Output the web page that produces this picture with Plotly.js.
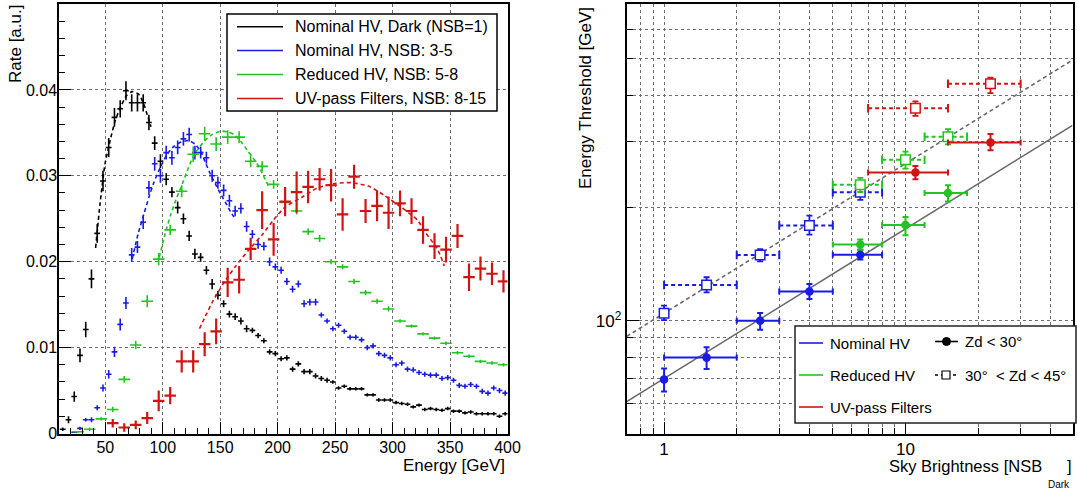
<!DOCTYPE html>
<html>
<head>
<meta charset="utf-8">
<script src="https://cdn.plot.ly/plotly-3.0.1.min.js"></script>
<style>html,body{margin:0;padding:0;background:#fff;}#chart{width:1078px;height:492px;}</style>
</head>
<body>
<div id="chart"></div>
<script>
// ---------------- Left panel: energy distributions ----------------
const blackE = [13,18,23,28,33,38,43,48,53,58,63,68,73,78,83,88,93,98,103,108,113,118,123,128,133,138,143,148,153,158,163,168,173,178,183,188,193,198,203,208,213,218,223,228,233,238,243,248,253,258,263,268,273,278,283,288,293,298,303,308,313,318,323,328,333,338,343,348,353,358,363,368,373,378,383,388,393,398];
const blackRate = [0.0005,0.0016,0.0043,0.0091,0.0121,0.0180,0.0233,0.0294,0.0333,0.0368,0.0378,0.0399,0.0385,0.0385,0.0385,0.0362,0.0338,0.0317,0.0296,0.0281,0.0263,0.0250,0.0230,
 0.0209,0.0205,0.0190,0.0174,0.0161,0.0151,0.0139,0.0136,0.0131,0.0122,0.0120,0.0114,
 0.0108,0.0095,0.0093,0.0087,0.0088,0.0075,0.0081,0.0072,0.0072,0.0067,0.0064,0.0062,
 0.0060,0.0053,0.0055,0.0052,0.0052,0.0052,0.0045,0.0045,0.0039,0.0039,0.0039,0.0036,0.0035,0.0034,0.0031,0.0033,0.0028,0.0029,0.0028,0.0027,0.0029,0.0026,0.0026,0.0024,0.0025,0.0023,0.0023,0.0023,0.0023,0.0020,0.0023];
const blackErr = [0.0002,0.0004,0.0006,0.0008,0.0009,0.0011,0.0011,0.0012,0.0011,0.0011,0.0010,0.0011,0.0010,0.0010,0.0010,0.0009,0.0008,0.0008,0.0007,0.0006,0.0007,0.0006,0.0006,
 0.0006,0.0005,0.0005,0.0006,0.0005,0.0004,0.0004,0.0004,0.0004,0.0004,0.0003,0.0003,
 0.0003,0.0003,0.0003,0.0003,0.0003,0.0003,0.0003,0.0003,0.0003,0.0003,0.0003,0.0003,
 0.0002,0.0002,0.0002,0.0002,0.0002,0.0002,0.0002,0.0002,0.0002,0.0002,0.0002,0.0002,0.0002,0.0002,0.0002,0.0002,0.0002,0.0002,0.0002,0.0002,0.0002,0.0002,0.0002,0.0002,0.0002,0.0002,0.0002,0.0002,0.0002,0.0002,0.0002];

const blueE = [23,28,33,38,43,48,53,58,63,68,73,78,83,88,93,98,103,108,113,118,123,128,133,138,143,148,153,158,163,168,173,178,183,188,193,198,203,208,213,218,223,228,233,238,243,248,253,258,263,268,273,278,283,288,293,298,303,308,313,318,323,328,333,338,343,348,353,358,363,368,373,378,383,388,393,398];
const blueRate = [0.00015,0.0006,0.0016,0.0016,0.0030,0.0053,0.0069,0.0095,0.0127,0.0152,
 0.0208,0.0217,0.0246,0.0286,0.0314,0.0300,0.0327,0.0321,0.0333,0.0343,
 0.0348,0.0327,0.0327,0.0321,0.0300,0.0292,0.0283,0.0271,0.0259,0.0262,
 0.0241,0.0232,0.0220,0.0218,0.0200,0.0194,0.0190,0.0177,0.0168,0.0174,
 0.0151,0.0153,0.0153,0.0138,0.0131,0.0122,0.0126,0.0119,0.0112,0.0112,
 0.0109,0.0100,0.0102,0.0093,0.0091,0.0088,0.0080,0.0082,0.0075,0.0074,
 0.0071,0.0069,0.0068,0.0068,0.0064,0.0065,0.0062,0.0056,0.0055,0.0057,
 0.0055,0.0049,0.0047,0.0053,0.0050,0.0047];
const blueErr = [0.0001,0.0002,0.0002,0.0003,0.0003,0.0004,0.0005,0.0006,0.0007,0.0007,
 0.0008,0.0007,0.0008,0.0008,0.0008,0.0008,0.0008,0.0008,0.0008,0.0008,
 0.0008,0.0008,0.0007,0.0007,0.0007,0.0007,0.0007,0.0007,0.0006,0.0006,
 0.0006,0.0005,0.0005,0.0005,0.0005,0.0004,0.0004,0.0004,0.0004,0.0004,
 0.0004,0.0004,0.0004,
 0.0003,0.0003,0.0003,0.0003,0.0003,0.0003,0.0003,0.0003,0.0003,0.0003,0.0003,0.0003,0.0003,0.0003,0.0003,0.0003,0.0003,0.0003,0.0003,0.0003,0.0003,0.0003,0.0003,0.0003,0.0003,0.0003,0.0003,0.0003,0.0003,0.0003,0.0003,0.0003,0.0003];

const greenE = [26.5,36.5,46.5,56.5,66.5,76.5,86.5,96.5,106.5,116.5,126.5,136.5,146.5,156.5,166.5,176.5,186.5,196.5,206.5,216.5,226.5,236.5,246.5,256.5,266.5,276.5,286.5,296.5,306.5,316.5,326.5,336.5,346.5,356.5,366.5,376.5,386.5,396.5];
const greenRate = [0.0002,0.0005,0.0017,0.0028,0.0063,0.0103,0.0154,0.0203,0.0237,0.0282,
 0.0325,0.0349,0.0337,0.0345,0.0345,0.0317,0.0311,0.0290,0.0269,0.0259,
 0.0235,0.0227,0.0200,0.0194,0.0177,0.0164,0.0154,0.0145,0.0131,0.0125,
 0.0116,0.0111,0.0105,0.0094,0.0090,0.0084,0.0082,0.0080];
const greenErr = [0.0001,0.0002,0.0002,0.0003,0.0004,0.0005,0.0007,0.0007,0.0006,0.0007,
 0.0009,0.0008,0.0008,0.0008,0.0007,0.0007,0.0006,0.0005,0.0005,0.0004,
 0.0004,0.0004,0.0003,0.0003,0.0003,0.0003,0.0003,0.0003,
 0.0002,0.0002,0.0002,0.0002,0.0002,0.0002,0.0002,0.0002,0.0002,0.0002];

const redE = [56.5,66.5,76.5,86.5,96.5,106.5,116.5,126.5,136.5,146.5,156.5,166.5,176.5,186.5,196.5,206.5,216.5,226.5,236.5,246.5,256.5,266.5,276.5,286.5,296.5,306.5,316.5,326.5,336.5,346.5,356.5,366.5,376.5,386.5,396.5];
const redRate = [0.0012,0.0007,0.0010,0.0018,0.0038,0.0044,0.0084,0.0084,0.0104,0.0119,
 0.0176,0.0179,0.0215,0.0260,0.0226,0.0270,0.0281,0.0287,0.0296,0.0289,
 0.0255,0.0299,0.0259,0.0265,0.0257,0.0268,0.0259,0.0237,0.0218,0.0214,
 0.0230,0.0182,0.0192,0.0186,0.0177];
const redErr = [0.0005,0.0005,0.0005,0.0007,0.0012,0.0010,0.0013,0.0013,0.0014,0.0015,
 0.0017,0.0016,0.0013,0.0022,0.0019,0.0017,0.0024,0.0019,0.0013,0.0019,
 0.0019,0.0014,0.0014,0.0018,0.0019,0.0015,0.0015,0.0016,0.0015,0.0015,
 0.0014,0.0016,0.0014,0.0013,0.0013];

const narrowHalfBin = 2.5, wideHalfBin = 5;

// fitted curves
const fitDarkE = [41.6,45.4,49.8,54.2,58.6,63,68.3,73.3,79,83.4,86.3,89.8];
const fitDarkR = [0.0216,0.0267,0.0314,0.0341,0.0364,0.0379,0.0393,0.0398,0.0395,0.0384,0.0372,0.0357];
const fitBlueE = [73.4,78.5,83.5,88,92.2,98,103.8,109.5,115.5,122.6,128,132.8,137,141.5,146,150.3,155,159.1,162];
const fitBlueR = [0.0203,0.0232,0.0255,0.0275,0.0292,0.0310,0.0325,0.0334,0.0339,0.0341,0.0337,0.0329,0.0316,0.0302,0.0290,0.0279,0.0268,0.0258,0.0252];
const fitGreenE = [97,102,107,111.5,116,120.5,125,130,136,143,151,157,162,168,174,179,184,188,192];
const fitGreenR = [0.0205,0.0232,0.0255,0.0272,0.0287,0.0303,0.0318,0.0330,0.0340,0.0348,0.0352,0.0351,0.0348,0.0340,0.0329,0.0320,0.0310,0.0299,0.0288];
const fitRedE = [132,138,144,153,163,175,187,196,206,221,235,250,264,279,293,308,322,327,333,339,345];
const fitRedR = [0.0122,0.0139,0.0155,0.0175,0.0194,0.0214,0.0232,0.0248,0.0263,0.0275,0.0286,0.0291,0.0292,0.0288,0.0277,0.0263,0.0248,0.0237,0.0226,0.0215,0.0195];

const leftLegend = ["Nominal HV, Dark (NSB=1)","Nominal HV, NSB: 3-5","Reduced HV, NSB: 5-8","UV-pass Filters, NSB: 8-15"];

// ---------------- Right panel: energy threshold vs sky brightness ----------------
const nomX = [1, 1.5, 2.5, 4, 6.5];
const nomLo = [1, 1, 2, 3, 5];
const nomHi = [1, 2, 3, 5, 8];
const nomLowZd = [69.7, 79.7, 100, 119.6, 150];
const nomLowZdUp = [4.9, 5.2, 4.8, 5.7, 4.6];
const nomLowZdDn = [5.0, 5.4, 5.4, 5.4, 4.4];
const nomHighZd = [104.6, 124.5, 149.7, 179.5, 220];
const nomHighZdUp = [5.1, 6.1, 5.6, 11.3, 11];
const nomHighZdDn = [4.2, 5.5, 5.8, 9.9, 10];

const redHvX = [6.5, 10, 15];
const redHvLo = [5, 8, 12];
const redHvHi = [8, 12, 18];
const redHvLowZd = [159.6, 180, 219];
const redHvLowZdUp = [5, 9, 11];
const redHvLowZdDn = [5, 11, 11];
const redHvHighZd = [230.5, 268.7, 309.5];
const redHvHighZdUp = [10, 14, 15];
const redHvHighZdDn = [10, 14, 14];

const uvX = [11, 22.5];
const uvLo = [7, 15];
const uvHi = [15, 30];
const uvLowZd = [248.6, 298.8];
const uvLowZdUp = [10, 16];
const uvLowZdDn = [10, 14];
const uvHighZd = [369, 429];
const uvHighZdUp = [16, 16];
const uvHighZdDn = [17, 24];

const refX = [0.7, 49.2];
const refLowZd = [60.8, 332];
const refHighZd = [90.8, 496];

const rightLegend = ["Nominal HV", "Reduced HV", "UV-pass Filters"];
const zdLegend = ["Zd &lt; 30°", "30°\u00a0 &lt; Zd &lt; 45°"];

// ---------------- styles ----------------
const C_BLACK = '#000000', C_BLUE = '#1a1ae6', C_GREEN = '#22c322', C_RED = '#d01414', C_GRAY = '#6a6a6a';
const FONT = 'Liberation Sans, Arial, Helvetica, sans-serif';
const W = 1078, H = 492;
const px = x => x / W;
const py = y => 1 - y / H;

const traces = [];
function crosses(E, R, Err, half, color, thick) {
  traces.push({
    type: 'scatter', mode: 'markers', x: E, y: R, xaxis: 'x', yaxis: 'y',
    marker: {size: 1, color: color},
    error_x: {type: 'constant', value: half, width: 0, thickness: thick, color: color},
    error_y: {type: 'data', array: Err, width: 0, thickness: thick, color: color},
    hoverinfo: 'skip'
  });
}
function fit(E, R, color) {
  traces.push({
    type: 'scatter', mode: 'lines', x: E, y: R, xaxis: 'x', yaxis: 'y',
    line: {color: color, width: 1.6, dash: '4px,3px', shape: 'spline', smoothing: 0.6},
    hoverinfo: 'skip'
  });
}
crosses(blackE, blackRate, blackErr, narrowHalfBin, C_BLACK, 1.6);
crosses(blueE, blueRate, blueErr, narrowHalfBin, C_BLUE, 1.6);
crosses(greenE, greenRate, greenErr, wideHalfBin, C_GREEN, 1.6);
crosses(redE, redRate, redErr, wideHalfBin, C_RED, 2.2);
fit(fitDarkE, fitDarkR, C_BLACK);
fit(fitBlueE, fitBlueR, C_BLUE);
fit(fitGreenE, fitGreenR, C_GREEN);
fit(fitRedE, fitRedR, C_RED);

// reference lines
traces.push({type:'scatter', mode:'lines', x: refX, y: refLowZd, xaxis:'x2', yaxis:'y2',
  line:{color:C_GRAY, width:1.6}, hoverinfo:'skip'});
traces.push({type:'scatter', mode:'lines', x: refX, y: refHighZd, xaxis:'x2', yaxis:'y2',
  line:{color:C_GRAY, width:1.6, dash:'4px,3px'}, hoverinfo:'skip'});

function thresholdGroup(X, Lo, Hi, Ylow, UpL, DnL, Yhigh, UpH, DnH, color) {
  const hx = [], hy = [], cx = [], cy = [];
  X.forEach((x, i) => {
    if (Hi[i] > Lo[i]) {
      hx.push(Lo[i], Hi[i], null); hy.push(Yhigh[i], Yhigh[i], null);
      cx.push(Lo[i], Hi[i]); cy.push(Yhigh[i], Yhigh[i]);
    }
  });
  traces.push({type:'scatter', mode:'lines', x: hx, y: hy, xaxis:'x2', yaxis:'y2',
    line:{color: color, width: 2, dash: '4px,3px'}, hoverinfo:'skip'});
  traces.push({type:'scatter', mode:'markers', x: cx, y: cy, xaxis:'x2', yaxis:'y2',
    marker:{symbol:'line-ns', size:6, line:{color: color, width:2}}, hoverinfo:'skip'});
  traces.push({type:'scatter', mode:'markers', x: X, y: Yhigh, xaxis:'x2', yaxis:'y2',
    marker:{symbol:'square', size:9.5, color:'#ffffff', line:{color: color, width:1.5}},
    error_y:{type:'data', symmetric:false, array: UpH, arrayminus: DnH, width:3, thickness:1.8, color: color},
    hoverinfo:'skip'});
  traces.push({type:'scatter', mode:'markers', x: X, y: Ylow, xaxis:'x2', yaxis:'y2',
    marker:{symbol:'circle', size:8.5, color: color},
    error_x:{type:'data', symmetric:false, array: X.map((x,i)=>Hi[i]-x), arrayminus: X.map((x,i)=>x-Lo[i]), width:3, thickness:2, color: color},
    error_y:{type:'data', symmetric:false, array: UpL, arrayminus: DnL, width:3, thickness:2, color: color},
    hoverinfo:'skip'});
}
thresholdGroup(nomX, nomLo, nomHi, nomLowZd, nomLowZdUp, nomLowZdDn, nomHighZd, nomHighZdUp, nomHighZdDn, C_BLUE);
thresholdGroup(redHvX, redHvLo, redHvHi, redHvLowZd, redHvLowZdUp, redHvLowZdDn, redHvHighZd, redHvHighZdUp, redHvHighZdDn, C_GREEN);
thresholdGroup(uvX, uvLo, uvHi, uvLowZd, uvLowZdUp, uvLowZdDn, uvHighZd, uvHighZdUp, uvHighZdDn, C_RED);

// ---------------- layout ----------------
const gridStyle = {showgrid: true, gridcolor: '#707070', gridwidth: 1, griddash: 'dot'};
const axisLine = {showline: true, linecolor: '#000', linewidth: 2, mirror: true, zeroline: false,
  ticks: 'inside', tickcolor: '#000', tickwidth: 1};

const shapes = [];
const annotations = [];
function ann(text, x, y, opts) {
  annotations.push(Object.assign({text: text, x: px(x), y: py(y), xref: 'paper', yref: 'paper',
    showarrow: false, xanchor: 'left', yanchor: 'middle', font: {family: FONT, size: 16, color: '#000'}}, opts || {}));
}
function hline(x0, x1, y, color, width, dash) {
  shapes.push({type:'line', xref:'paper', yref:'paper', x0:px(x0), x1:px(x1), y0:py(y), y1:py(y),
    line:{color: color, width: width, dash: dash || 'solid'}});
}

// axis titles
ann('Rate [a.u.]', 15, 44, {textangle: -90, xanchor: 'center', font: {family: FONT, size: 17}});
ann('Energy [GeV]', 507, 465, {xanchor: 'right', font: {family: FONT, size: 17}});
ann('Energy Threshold [GeV]', 585, 98, {textangle: -90, xanchor: 'center', font: {family: FONT, size: 17}});
ann('Sky Brightness [NSB', 1044, 466, {xanchor: 'right', font: {family: FONT, size: 16.5}});
ann('Dark', 1046, 484, {xanchor: 'left', font: {family: FONT, size: 10}});
ann(']', 1074, 466, {xanchor: 'right', font: {family: FONT, size: 16.5}});

// left legend
shapes.push({type:'rect', xref:'paper', yref:'paper', x0:px(227), x1:px(497), y0:py(111), y1:py(14),
  fillcolor:'#ffffff', line:{color:'#000', width:1.5}});
const leftColors = [C_BLACK, C_BLUE, C_GREEN, C_RED];
const leftRows = [26.7, 50.5, 74.5, 98.5];
leftLegend.forEach((t, i) => {
  hline(237, 283, leftRows[i], leftColors[i], 1.6);
  ann(t, 293, leftRows[i], {font: {family: FONT, size: 16}});
});

// right legend
shapes.push({type:'rect', xref:'paper', yref:'paper', x0:px(795), x1:px(1076), y0:py(423), y1:py(326),
  fillcolor:'#ffffff', line:{color:'#222', width:1.5}});
const rightColors = [C_BLUE, C_GREEN, C_RED];
const rightRows = [343, 375, 407];
rightLegend.forEach((t, i) => {
  hline(799, 823, rightRows[i], rightColors[i], 1.6);
  ann(t, 828, rightRows[i], {font: {family: FONT, size: 15}});
});
hline(935, 958, 341.5, '#000', 1.6);
shapes.push({type:'circle', xref:'paper', yref:'paper', x0:px(942.5), x1:px(950.5), y0:py(345.5), y1:py(337.5),
  fillcolor:'#000', line:{color:'#000', width:1}});
ann(zdLegend[0], 963, 341.5, {font: {family: FONT, size: 15}});
hline(935, 958, 375, '#000', 1.4, 'dot');
shapes.push({type:'rect', xref:'paper', yref:'paper', x0:px(942), x1:px(950), y0:py(379), y1:py(371),
  fillcolor:'#fff', line:{color:'#000', width:1.2}});
ann(zdLegend[1], 963, 375, {font: {family: FONT, size: 15}});

const layout = {
  width: W, height: H,
  margin: {l: 0, r: 0, t: 0, b: 0},
  paper_bgcolor: '#ffffff', plot_bgcolor: '#ffffff',
  showlegend: false,
  font: {family: FONT, size: 16, color: '#000'},
  xaxis: Object.assign({}, axisLine, gridStyle, {
    domain: [px(59.3), px(507.5)], anchor: 'y', range: [10, 400], tick0: 0, dtick: 50, ticklen: 12,
    tickfont: {family: FONT, size: 16}, ticklabelstandoff: -2,
    minor: {dtick: 10, tick0: 0, ticks: 'inside', ticklen: 6, tickcolor: '#000', showgrid: false}
  }),
  yaxis: Object.assign({}, axisLine, gridStyle, {
    domain: [py(433.5), py(4)], anchor: 'x', range: [0, 0.05], tick0: 0, dtick: 0.01, ticklen: 12,
    tickfont: {family: FONT, size: 16}, ticklabelstandoff: -3,
    minor: {dtick: 0.002, tick0: 0, ticks: 'inside', ticklen: 6, tickcolor: '#000', showgrid: false}
  }),
  xaxis2: Object.assign({}, axisLine, gridStyle, {
    type: 'log', domain: [px(626.7), px(1072.5)], anchor: 'y2', range: [Math.log10(0.7), 1.692],
    tickmode: 'array', tickvals: [1, 10], ticktext: ['1', '10'], ticklen: 12,
    tickfont: {family: FONT, size: 17}, ticklabelstandoff: -1,
    minor: {tickmode: 'array', tickvals: [0.8, 0.9, 2, 3, 4, 5, 6, 7, 8, 9, 20, 30, 40], ticks: 'inside', ticklen: 6,
      tickcolor: '#000', showgrid: true, gridcolor: '#707070', griddash: 'dot', gridwidth: 1}
  }),
  yaxis2: Object.assign({}, axisLine, gridStyle, {
    type: 'log', domain: [py(433.5), py(4)], anchor: 'x2', range: [Math.log10(50), Math.log10(700)],
    tickmode: 'array', tickvals: [100], ticktext: ['10<sup>2</sup>'], ticklen: 12,
    tickfont: {family: FONT, size: 17},
    minor: {tickmode: 'array', tickvals: [60, 70, 80, 90, 200, 300, 400, 500, 600], ticks: 'inside', ticklen: 6,
      tickcolor: '#000', showgrid: true, gridcolor: '#707070', griddash: 'dot', gridwidth: 1}
  }),
  shapes: shapes,
  annotations: annotations
};

Plotly.newPlot('chart', traces, layout, {displayModeBar: false, staticPlot: true});
</script>
</body>
</html>
